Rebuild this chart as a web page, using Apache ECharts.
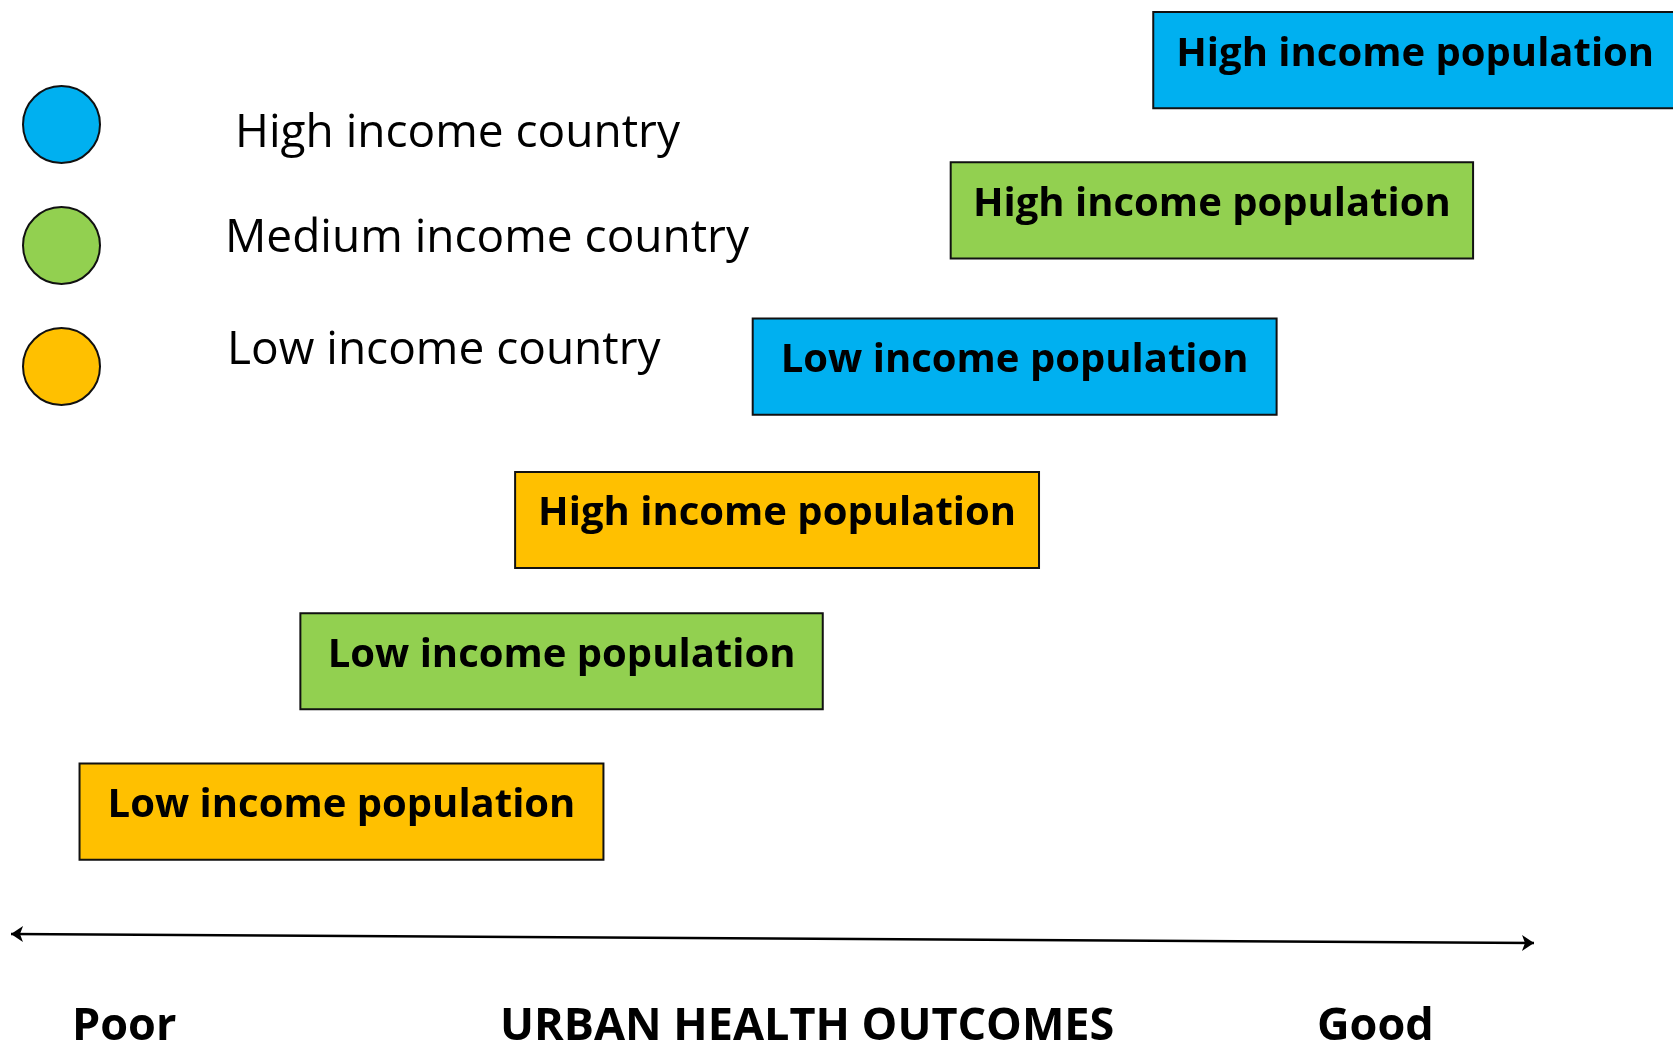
<!DOCTYPE html>
<html>
<head>
<meta charset="utf-8">
<script src="https://cdn.jsdelivr.net/npm/echarts@6/dist/echarts.min.js"></script>
<style>
html,body{margin:0;padding:0;background:#fff;}
#chart{width:1673px;height:1048px;}
</style>
</head>
<body>
<div id="chart"></div>
<script>
// ---- data ----
const countryGroups = ['High income country', 'Medium income country', 'Low income country'];
const groupColors = ['#00B0F0', '#92D050', '#FFC000'];
const populationLabels = ['Low income population', 'High income population'];
// outcome range on the Poor(0) -> Good(100) axis: [start, end], and stair level
const highCountryLowPop = [48.7, 83.1, 3.96];
const highCountryHighPop = [75.0, 109.4, 6.0];
const mediumCountryLowPop = [19.0, 53.3, 2.0];
const mediumCountryHighPop = [61.7, 96.0, 5.0];
const lowCountryLowPop = [4.5, 38.9, 1.0];
const lowCountryHighPop = [33.1, 67.5, 2.94];
const arrowEnds = [[0, 0.185], [100, 0.125]];
const axisWords = ['Poor', 'URBAN HEALTH OUTCOMES', 'Good'];

const groupBoxes = [
  [highCountryLowPop, highCountryHighPop],
  [mediumCountryLowPop, mediumCountryHighPop],
  [lowCountryLowPop, lowCountryHighPop]
];

const FONT = '"Open Sans", "Noto Sans", sans-serif';
// legend text padding per item (layout only)
const legendPads = [[19, 0, 0, 128], [0, 0, 13, 118], [0, 0, 32, 120]];

function renderBox(params, api) {
  const label = populationLabels[api.value(3)];
  const s = api.coord([api.value(0), api.value(2)]);
  const e = api.coord([api.value(1), api.value(2)]);
  const h = api.size([0, 1])[1] * 0.64;
  return {
    type: 'rect',
    shape: { x: s[0], y: s[1] - h / 2, width: e[0] - s[0], height: h },
    style: { fill: api.visual('color'), stroke: '#111', lineWidth: 2 },
    textContent: {
      style: { text: label, fill: '#000', font: 'bold 40px ' + FONT }
    },
    textConfig: { position: 'inside', offset: [0, -6] }
  };
}

const series = countryGroups.map((name, gi) => ({
  name: name,
  type: 'custom',
  coordinateSystem: 'cartesian2d',
  clip: false,
  itemStyle: { color: groupColors[gi] },
  renderItem: renderBox,
  data: groupBoxes[gi].map((b, pi) => [b[0], b[1], b[2], pi])
}));

series.push({
  type: 'lines',
  coordinateSystem: 'cartesian2d',
  polyline: false,
  symbol: ['arrow', 'arrow'],
  symbolSize: 12,
  silent: true,
  lineStyle: { color: '#000', width: 2.5, opacity: 1 },
  data: [{ coords: arrowEnds }]
});

const rich = {};
legendPads.forEach((p, i) => {
  rich['t' + i] = { fontSize: 46, lineHeight: 30, fontFamily: FONT, color: '#000', padding: p };
});

const chart = echarts.init(document.getElementById('chart'), null, { renderer: 'canvas' });
chart.setOption({
  backgroundColor: '#fff',
  animation: false,
  textStyle: { fontFamily: FONT },
  grid: { left: 11, width: 1523, top: 0, height: 1037 },
  xAxis: { type: 'value', min: 0, max: 100, show: false },
  yAxis: { type: 'value', min: -0.5, max: 6.4, show: false },
  legend: {
    orient: 'vertical',
    left: 22,
    top: 85,
    padding: 0,
    itemWidth: 81,
    itemHeight: 77,
    itemGap: 42,
    icon: 'path://M0,50 A50,50 0 1 1 100,50 A50,50 0 1 1 0,50 Z',
    selectedMode: false,
    formatter: (name) => '{t' + countryGroups.indexOf(name) + '|' + name + '}',
    textStyle: { fontSize: 46, lineHeight: 30, color: '#000', fontFamily: FONT, rich: rich },
    data: countryGroups.map((n, i) => ({
      name: n,
      itemStyle: { color: groupColors[i], borderColor: '#111', borderWidth: 2 }
    }))
  },
  graphic: [
    { type: 'text', left: 72, top: 1005, style: { text: axisWords[0], font: 'bold 45px ' + FONT, fill: '#000' } },
    { type: 'text', left: 500, top: 1005, style: { text: axisWords[1], font: 'bold 45px ' + FONT, fill: '#000' } },
    { type: 'text', left: 1317, top: 1005, style: { text: axisWords[2], font: 'bold 45px ' + FONT, fill: '#000' } }
  ],
  series: series
});
</script>
</body>
</html>
